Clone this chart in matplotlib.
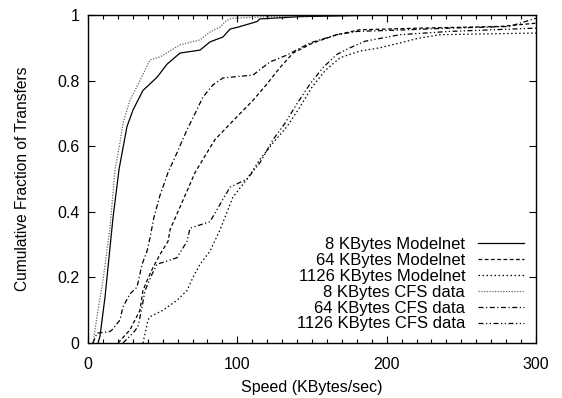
import numpy as np
import matplotlib
matplotlib.use("Agg")
import matplotlib.pyplot as plt
from matplotlib.ticker import MultipleLocator

plt.rcParams['font.family'] = ['Liberation Sans', 'DejaVu Sans']

# speed (KBytes/sec) and cumulative fraction
mn8_x = [6.7, 8, 11.4, 16.7, 20.8, 26.1, 30.1, 36.8, 46.2, 52.9, 61.6, 75, 81.7, 90.4, 95.1,
         100.4, 113.2, 115, 142, 197, 300]
mn8_y = [0, 0.02, 0.14, 0.38, 0.53, 0.66, 0.71, 0.77, 0.81, 0.85, 0.884, 0.893, 0.918, 0.933,
         0.957, 0.963, 0.98, 0.988, 0.995, 1.0, 1.0]

mn64_x = [20.1, 28.1, 34.8, 36.8, 39.5, 43.5, 48.2, 53.6, 54.9, 63.6, 71.7, 77, 85, 99.8,
          110.5, 119.9, 128.6, 137.3, 150.7, 166.7, 182, 222, 276, 300]
mn64_y = [0, 0.04, 0.10, 0.16, 0.19, 0.23, 0.27, 0.31, 0.345, 0.435, 0.52, 0.56, 0.62, 0.69,
          0.74, 0.79, 0.84, 0.884, 0.915, 0.94, 0.955, 0.96, 0.965, 0.975]

mn1126_x = [36.8, 40.2, 41.5, 50.2, 59.6, 66.3, 70.3, 75, 81.7, 88.4, 97.1, 106.5, 115.2,
            123.9, 133.3, 142, 150, 158.7, 168.8, 182.1, 195.5, 222.3, 235.7, 300]
mn1126_y = [0, 0.07, 0.08, 0.10, 0.13, 0.16, 0.20, 0.24, 0.28, 0.345, 0.445, 0.50, 0.56,
            0.61, 0.66, 0.72, 0.78, 0.83, 0.87, 0.89, 0.90, 0.93, 0.94, 0.945]

cfs8_x = [3.3, 6.7, 10, 14.7, 18.1, 21.4, 23.4, 28.1, 34.8, 41.5, 48.2, 61.6, 75, 81.7,
          88.4, 93.1, 97.1, 120, 182, 300]
cfs8_y = [0, 0.10, 0.19, 0.35, 0.53, 0.61, 0.67, 0.74, 0.80, 0.863, 0.872, 0.909, 0.924,
          0.948, 0.963, 0.985, 0.99, 0.995, 1.0, 1.0]

cfs64_x = [3.3, 6, 14.7, 16.1, 21.4, 23.4, 28.1, 32.8, 36.2, 39.5, 41.5, 44, 48.2, 53.6,
           59.6, 66.3, 71.7, 77, 83.7, 90.4, 110.5, 121.9, 133.3, 148.7, 166.7, 180.1,
           207.6, 242.4, 282, 300]
cfs64_y = [0, 0.03, 0.035, 0.04, 0.07, 0.11, 0.15, 0.17, 0.24, 0.28, 0.32, 0.38, 0.45, 0.52,
           0.58, 0.65, 0.70, 0.75, 0.787, 0.808, 0.817, 0.857, 0.878, 0.915, 0.94, 0.95,
           0.954, 0.96, 0.965, 0.99]

cfs1126_x = [23.4, 30.1, 33.5, 36.2, 38.2, 42.9, 46.2, 52.9, 59.6, 66.3, 68.3, 81.7, 95.1,
             106.5, 115.2, 123.9, 131.9, 140, 148.7, 157.4, 166.7, 175.4, 185.5, 208.9,
             242.4, 300]
cfs1126_y = [0, 0.03, 0.05, 0.11, 0.16, 0.21, 0.24, 0.25, 0.26, 0.31, 0.35, 0.37, 0.475,
             0.50, 0.55, 0.62, 0.67, 0.73, 0.79, 0.84, 0.88, 0.90, 0.92, 0.94, 0.95, 0.96]

fig = plt.figure(figsize=(5.62, 3.98), dpi=100)
ax = fig.add_axes([88 / 562, 55 / 398, 448 / 562, 328 / 398])

lw = 0.9
ax.plot(mn8_x, mn8_y, color='black', lw=lw, ls='-', label='8 KBytes Modelnet')
ax.plot(mn64_x, mn64_y, color='black', lw=lw, ls=(0, (3, 2)), label='64 KBytes Modelnet')
ax.plot(mn1126_x, mn1126_y, color='black', lw=lw, ls=(0, (1.2, 2)), label='1126 KBytes Modelnet')
ax.plot(cfs8_x, cfs8_y, color='#666666', lw=lw, ls=(0, (1, 1.2)), label='8 KBytes CFS data')
ax.plot(cfs64_x, cfs64_y, color='black', lw=lw, ls=(0, (4, 2, 1, 2)), label='64 KBytes CFS data')
ax.plot(cfs1126_x, cfs1126_y, color='black', lw=lw, ls=(0, (4, 2, 1, 2, 1, 2)),
        label='1126 KBytes CFS data')

ax.set_xlim(0, 300)
ax.set_ylim(0, 1)
ax.xaxis.set_major_locator(MultipleLocator(100))
ax.xaxis.set_minor_locator(MultipleLocator(10))
ax.set_yticks([0, 0.2, 0.4, 0.6, 0.8, 1.0])
ax.set_yticklabels(['0', '0.2', '0.4', '0.6', '0.8', '1'])
ax.tick_params(which='both', direction='in', top=True, right=True, labelsize=11.5, width=0.8)
ax.tick_params(which='major', length=5)
ax.tick_params(which='minor', length=3)
ax.tick_params(axis='x', which='major', pad=10)
ax.tick_params(axis='y', which='major', pad=6)
for s in ax.spines.values():
    s.set_linewidth(1.0)

ax.set_xlabel('Speed (KBytes/sec)', fontsize=11.5, labelpad=6)
ax.set_ylabel('Cumulative Fraction of Transfers', fontsize=11.2, labelpad=20)

ax.legend(loc='lower right', frameon=False, markerfirst=False, fontsize=12,
          handlelength=2.8, handletextpad=0.75, labelspacing=0.05,
          borderaxespad=0.3, bbox_to_anchor=(1.0, 0.0))

fig.savefig('out.png', dpi=100)
